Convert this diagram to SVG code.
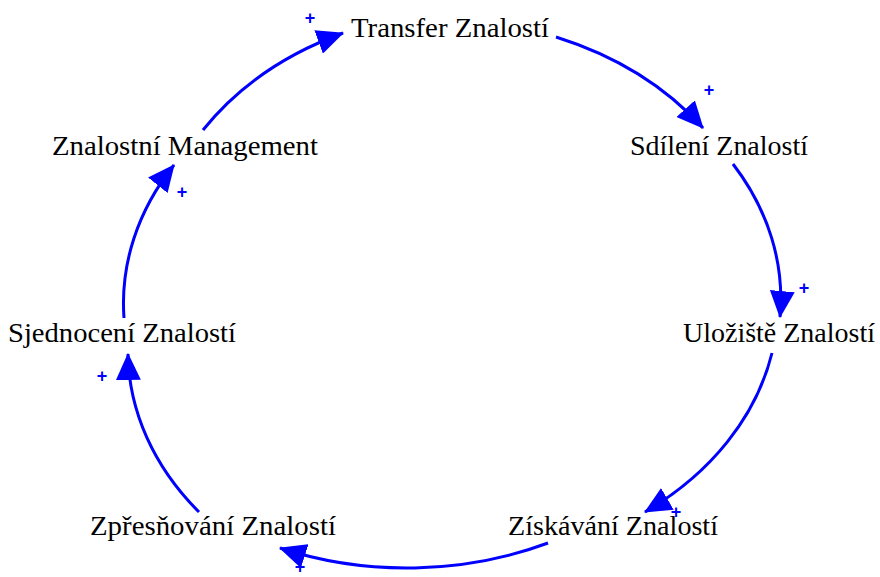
<svg xmlns="http://www.w3.org/2000/svg" width="880" height="577" viewBox="0 0 880 577">
<style>
.lbl{font-family:"Liberation Serif","DejaVu Serif",serif;font-size:27px;fill:#000;text-anchor:middle}
.pl{font-family:"Liberation Sans","DejaVu Sans",sans-serif;font-size:18px;font-weight:bold;fill:#0000ff;text-anchor:middle}
.ln{fill:none;stroke:#0000ff;stroke-width:3;marker-end:url(#ah)}
</style>
<defs>
<marker id="ah" markerUnits="userSpaceOnUse" markerWidth="27" markerHeight="25" refX="25" refY="12" orient="auto" viewBox="0 0 26 24">
<path d="M0,0 L26,12 L0,24 z" fill="#0000ff"/>
</marker>
</defs>
<rect width="880" height="577" fill="#fff"/>
<g id="connectors">
<path class="ln" d="M203,130 A330 260 0 0 1 343,33"/>
<path class="ln" d="M556,37 A330 260 0 0 1 703,128"/>
<path class="ln" d="M733,164 A330 260 0 0 1 780,317"/>
<path class="ln" d="M772,353 A330 260 0 0 1 645,512"/>
<path class="ln" d="M548,543 A330 260 0 0 1 280,548"/>
<path class="ln" d="M199,512 A330 260 0 0 1 128,354"/>
<path class="ln" d="M124,318 A330 260 0 0 1 174,165"/>
<text class="pl" x="310" y="24">+</text>
<text class="pl" x="709" y="96">+</text>
<text class="pl" x="804" y="294">+</text>
<text class="pl" x="676" y="518">+</text>
<text class="pl" x="300" y="573">+</text>
<text class="pl" x="102" y="382">+</text>
<text class="pl" x="182" y="198">+</text>
</g>
<g id="n-transfer"><text class="lbl" x="450" y="37" textLength="198" lengthAdjust="spacingAndGlyphs">Transfer Znalostí</text></g>
<g id="n-sdileni"><text class="lbl" x="719" y="155" textLength="178" lengthAdjust="spacingAndGlyphs">Sdílení Znalostí</text></g>
<g id="n-uloziste"><text class="lbl" x="779" y="342" textLength="192" lengthAdjust="spacingAndGlyphs">Uložiště Znalostí</text></g>
<g id="n-ziskavani"><text class="lbl" x="613" y="535" textLength="210" lengthAdjust="spacingAndGlyphs">Získávání Znalostí</text></g>
<g id="n-zpresnovani"><text class="lbl" x="213" y="535" textLength="246" lengthAdjust="spacingAndGlyphs">Zpřesňování Znalostí</text></g>
<g id="n-sjednoceni"><text class="lbl" x="122" y="342" textLength="228" lengthAdjust="spacingAndGlyphs">Sjednocení Znalostí</text></g>
<g id="n-management"><text class="lbl" x="185" y="155" textLength="266" lengthAdjust="spacingAndGlyphs">Znalostní Management</text></g>
</svg>
